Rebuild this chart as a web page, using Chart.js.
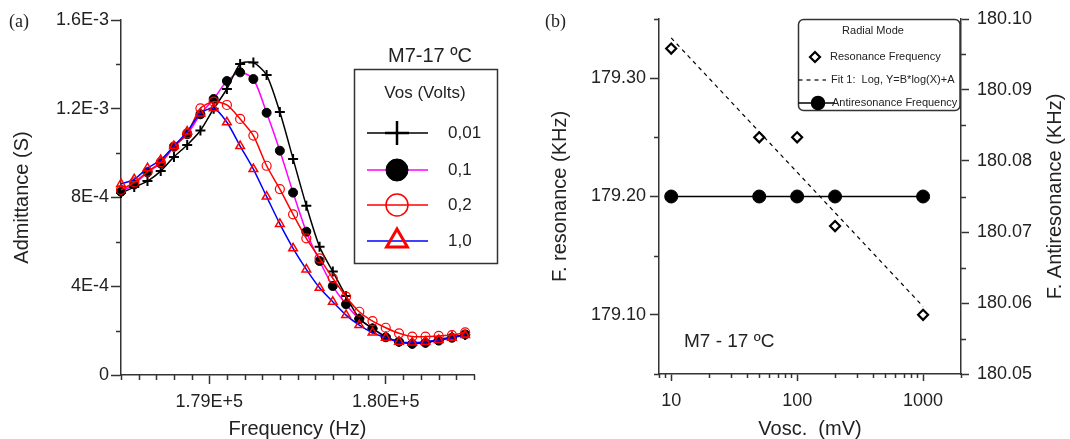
<!DOCTYPE html>
<html>
<head>
<meta charset="utf-8">
<script src="https://cdn.jsdelivr.net/npm/chart.js"></script>
<style>
  body { margin: 0; background: #fff; width: 1070px; height: 439px; overflow: hidden; position: relative; }
  .panel { position: absolute; top: 0; width: 535px; height: 439px; }
  #pa { left: 0; }
  #pb { left: 535px; }
</style>
</head>
<body>
<div class="panel" id="pa"><canvas id="chartA"></canvas></div>
<div class="panel" id="pb"><canvas id="chartB"></canvas></div>
<script>
// ---- panel (a): admittance vs frequency ----
var freqHz = [178500,178575,178650,178725,178800,178875,178950,179025,179100,179175,179250,179325,179400,179475,
              179550,179625,179700,179775,179850,179925,180000,180075,180150,180225,180300,180375,180450];
var adm001 = [8.20e-4,8.47e-4,8.74e-4,9.19e-4,9.83e-4,1.037e-3,1.102e-3,1.200e-3,1.289e-3,1.402e-3,1.408e-3,1.352e-3,1.185e-3,9.74e-4,
              7.63e-4,5.78e-4,4.66e-4,3.56e-4,2.55e-4,2.10e-4,1.73e-4,1.50e-4,1.43e-4,1.47e-4,1.58e-4,1.73e-4,1.80e-4];
var adm01  = [8.26e-4,8.59e-4,9.13e-4,9.54e-4,1.029e-3,1.085e-3,1.175e-3,1.244e-3,1.325e-3,1.364e-3,1.334e-3,1.182e-3,1.011e-3,8.22e-4,
              6.46e-4,5.14e-4,4.01e-4,3.19e-4,2.52e-4,2.10e-4,1.70e-4,1.50e-4,1.40e-4,1.45e-4,1.55e-4,1.68e-4,1.83e-4];
var adm02  = [8.34e-4,8.68e-4,9.16e-4,9.59e-4,1.029e-3,1.089e-3,1.202e-3,1.232e-3,1.217e-3,1.154e-3,1.079e-3,9.43e-4,8.38e-4,7.24e-4,
              6.16e-4,5.26e-4,4.36e-4,3.53e-4,2.85e-4,2.43e-4,2.13e-4,1.88e-4,1.73e-4,1.73e-4,1.76e-4,1.80e-4,1.92e-4];
var adm10  = [8.61e-4,8.82e-4,9.32e-4,9.69e-4,1.032e-3,1.097e-3,1.179e-3,1.202e-3,1.139e-3,1.032e-3,9.28e-4,8.04e-4,6.81e-4,5.71e-4,
              4.76e-4,3.93e-4,3.30e-4,2.70e-4,2.25e-4,1.91e-4,1.68e-4,1.50e-4,1.46e-4,1.50e-4,1.58e-4,1.68e-4,1.80e-4];
var vosLabels = ['0,01', '0,1', '0,2', '1,0'];
var aTicksX = [179000, 180000];
var aTickLabelsX = ['1.79E+5', '1.80E+5'];
var aMinorX = [178500,178600,178700,178800,178900,179100,179200,179300,179400,179500,179600,179700,179800,179900,180100,180200,180300,180400,180500];
var aTicksY = [0, 4e-4, 8e-4, 1.2e-3, 1.6e-3];
var aTickLabelsY = ['0', '4E-4', '8E-4', '1.2E-3', '1.6E-3'];
var aMinorY = [2e-4, 6e-4, 1.0e-3, 1.4e-3];

// ---- panel (b): resonance / antiresonance vs Vosc ----
var vosc = [10, 50, 100, 200, 1000];
var fRes = [179.325, 179.25, 179.25, 179.175, 179.10];
var fAnti = [180.075, 180.075, 180.075, 180.075, 180.075];
var fitX = [10, 1000];
var fitY = [179.334, 179.107];
var bTicksX = [10, 100, 1000];
var bMinorX = [8, 9, 20, 30, 40, 50, 60, 70, 80, 90, 200, 300, 400, 500, 600, 700, 800, 900, 2000];
var bTicksY = [179.10, 179.20, 179.30];
var bTickLabelsY = ['179.10', '179.20', '179.30'];
var bMinorY = [179.05, 179.15, 179.25, 179.35];
var bTicksY2 = [180.05, 180.06, 180.07, 180.08, 180.09, 180.10];
var bTickLabelsY2 = ['180.05', '180.06', '180.07', '180.08', '180.09', '180.10'];
var bMinorY2 = [180.055, 180.065, 180.075, 180.085, 180.095];

var axisColor = '#333';
var textColor = '#222';
Chart.defaults.font.family = '"Liberation Sans", Arial, sans-serif';
Chart.defaults.color = textColor;

function pts(xs, ys) {
  return xs.map(function(x, i) { return {x: x, y: ys[i]}; });
}

var minorTicks = {
  id: 'minorTicks',
  afterDraw: function(chart, args, opts) {
    var ctx = chart.ctx;
    ctx.save();
    ctx.strokeStyle = axisColor;
    ctx.lineWidth = 1.5;
    (opts.list || []).forEach(function(m) {
      var s = chart.scales[m.scale];
      m.values.forEach(function(v) {
        var p = Math.round(s.getPixelForValue(v)) + 0.5;
        ctx.beginPath();
        if (s.isHorizontal()) { ctx.moveTo(p, s.top); ctx.lineTo(p, s.top + m.len); }
        else if (s.position === 'left') { ctx.moveTo(s.right, p); ctx.lineTo(s.right - m.len, p); }
        else { ctx.moveTo(s.left, p); ctx.lineTo(s.left + m.len, p); }
        ctx.stroke();
      });
    });
    ctx.restore();
  }
};

var legendA = {
  id: 'legendA',
  afterDraw: function(chart) {
    var ctx = chart.ctx;
    ctx.save();
    ctx.fillStyle = textColor;
    ctx.font = '18px "Liberation Serif", "Times New Roman", serif';
    ctx.textAlign = 'left'; ctx.textBaseline = 'middle';
    ctx.fillText('(a)', 9, 22);
    ctx.textAlign = 'center';
    ctx.font = '20px "Liberation Sans", Arial, sans-serif';
    ctx.fillText('M7-17 ºC', 430, 56);
    ctx.strokeStyle = axisColor; ctx.lineWidth = 1.5;
    ctx.strokeRect(354.5, 69.5, 143, 194);
    ctx.font = '17px "Liberation Sans", Arial, sans-serif';
    ctx.fillText('Vos (Volts)', 425, 93);
    var rows = [133, 170, 205, 241];
    chart.data.datasets.forEach(function(ds, i) {
      var y = rows[i];
      ctx.strokeStyle = ds.borderColor; ctx.lineWidth = 1.5;
      ctx.beginPath(); ctx.moveTo(367, y); ctx.lineTo(428, y); ctx.stroke();
      ctx.fillStyle = ds.pointBackgroundColor;
      ctx.strokeStyle = ds.pointBorderColor;
      ctx.lineWidth = ds.legendBorder;
      Chart.helpers.drawPoint(ctx, {pointStyle: ds.pointStyle, radius: ds.legendRadius, rotation: 0, borderWidth: ds.legendBorder}, 397, y);
      ctx.fillStyle = textColor;
      ctx.textAlign = 'left';
      ctx.fillText(vosLabels[i], 448, y);
    });
    ctx.restore();
  }
};

new Chart(document.getElementById('chartA'), {
  type: 'scatter',
  data: {
    datasets: [
      {label: vosLabels[0], data: pts(freqHz, adm001), showLine: true, borderColor: '#000', borderWidth: 1.5,
       pointStyle: 'cross', pointRadius: 5, pointBorderWidth: 2, pointBorderColor: '#000', pointBackgroundColor: '#000',
       legendRadius: 12, legendBorder: 2.5, tension: 0.25, order: 2, clip: 10},
      {label: vosLabels[1], data: pts(freqHz, adm01), showLine: true, borderColor: '#ff00ff', borderWidth: 1.5,
       pointStyle: 'circle', pointRadius: 4.5, pointBorderWidth: 1, pointBorderColor: '#000', pointBackgroundColor: '#000',
       legendRadius: 11, legendBorder: 1, tension: 0.25, order: 3, clip: 10},
      {label: vosLabels[2], data: pts(freqHz, adm02), showLine: true, borderColor: '#ff0000', borderWidth: 1.5,
       pointStyle: 'circle', pointRadius: 4.5, pointBorderWidth: 1.2, pointBorderColor: '#ff0000', pointBackgroundColor: 'rgba(255,255,255,0)',
       legendRadius: 11, legendBorder: 1.5, tension: 0.25, order: 1, clip: 10},
      {label: vosLabels[3], data: pts(freqHz, adm10), showLine: true, borderColor: '#0000ff', borderWidth: 1.5,
       pointStyle: 'triangle', pointRadius: 5, pointBorderWidth: 1.5, pointBorderColor: '#ff0000', pointBackgroundColor: 'rgba(255,255,255,0)',
       legendRadius: 12, legendBorder: 3, tension: 0.25, order: 0, clip: 10}
    ]
  },
  options: {
    responsive: true, maintainAspectRatio: false, animation: false,
    layout: {padding: {top: 20, right: 61, left: 0, bottom: 0}},
    plugins: {
      legend: {display: false}, tooltip: {enabled: false},
      minorTicks: {list: [{scale: 'x', values: aMinorX, len: 5}, {scale: 'y', values: aMinorY, len: 5}]}
    },
    scales: {
      x: {
        type: 'linear', min: 178500, max: 180500,
        afterBuildTicks: function(s) { s.ticks = aTicksX.map(function(v) { return {value: v}; }); },
        afterFit: function(s) { s.height = 64; },
        ticks: {callback: function(v, i) { return aTickLabelsX[i]; }, font: {size: 18}, padding: 7, maxRotation: 0, autoSkip: false, color: textColor},
        grid: {drawOnChartArea: false, tickLength: 9, tickWidth: 1.5, color: axisColor},
        border: {color: axisColor, width: 1.5},
        title: {display: true, text: 'Frequency (Hz)', font: {size: 20, lineHeight: 1}, padding: {top: 0, bottom: 0}, color: textColor}
      },
      y: {
        min: 0, max: 1.6e-3,
        afterBuildTicks: function(s) { s.ticks = aTicksY.map(function(v) { return {value: v}; }); },
        afterFit: function(s) { s.width = 121; },
        ticks: {callback: function(v, i) { return aTickLabelsY[i]; }, font: {size: 18}, padding: 2, color: textColor},
        grid: {drawOnChartArea: false, tickLength: 10, tickWidth: 1.5, color: axisColor},
        border: {color: axisColor, width: 1.5},
        title: {display: true, text: 'Admittance (S)', font: {size: 20, lineHeight: 1}, padding: {top: 12, bottom: 0}, color: textColor}
      }
    }
  },
  plugins: [minorTicks, legendA]
});

var legendB = {
  id: 'legendB',
  afterDraw: function(chart) {
    var ctx = chart.ctx, a = chart.chartArea;
    ctx.save();
    ctx.fillStyle = textColor;
    ctx.font = '18px "Liberation Serif", "Times New Roman", serif';
    ctx.textAlign = 'left'; ctx.textBaseline = 'middle';
    ctx.fillText('(b)', 10, 22);
    ctx.font = '19px "Liberation Sans", Arial, sans-serif';
    ctx.fillText('M7 - 17 ºC', 149, 342);
    // right axis title, read bottom to top
    ctx.save();
    ctx.translate(520, (a.top + a.bottom) / 2);
    ctx.rotate(-Math.PI / 2);
    ctx.textAlign = 'center';
    ctx.font = '20px "Liberation Sans", Arial, sans-serif';
    ctx.fillText('F. Antiresonance (KHz)', 0, 0);
    ctx.restore();
    // legend box
    var bx = 263.5, by = a.top + 0.5, bw = a.right - 1 - bx, bh = 91;
    ctx.strokeStyle = axisColor; ctx.lineWidth = 1.5;
    ctx.beginPath(); ctx.roundRect(bx, by, bw, bh, 5); ctx.stroke();
    ctx.font = '11px "Liberation Sans", Arial, sans-serif';
    ctx.textAlign = 'center';
    ctx.fillText('Radial Mode', 338, 31);
    ctx.textAlign = 'left';
    // resonance
    ctx.fillStyle = '#fff'; ctx.strokeStyle = '#000'; ctx.lineWidth = 2.2;
    Chart.helpers.drawPoint(ctx, {pointStyle: 'rectRot', radius: 5, rotation: 0, borderWidth: 2.2}, 280, 57);
    ctx.fillStyle = textColor;
    ctx.fillText('Resonance Frequency', 295, 57);
    // fit
    ctx.strokeStyle = '#000'; ctx.lineWidth = 1.2; ctx.setLineDash([4, 4]);
    ctx.beginPath(); ctx.moveTo(bx, 80); ctx.lineTo(291, 80); ctx.stroke();
    ctx.setLineDash([]);
    ctx.fillText('Fit 1:  Log, Y=B*log(X)+A', 296, 80);
    // antiresonance
    ctx.lineWidth = 1.5;
    ctx.beginPath(); ctx.moveTo(bx, 103); ctx.lineTo(300, 103); ctx.stroke();
    ctx.fillStyle = '#000';
    Chart.helpers.drawPoint(ctx, {pointStyle: 'circle', radius: 6.5, rotation: 0, borderWidth: 1}, 283, 103);
    ctx.fillStyle = textColor;
    ctx.fillText('Antiresonance Frequency', 297, 103);
    ctx.restore();
  }
};

new Chart(document.getElementById('chartB'), {
  type: 'scatter',
  data: {
    datasets: [
      {label: 'Resonance Frequency', data: pts(vosc, fRes), yAxisID: 'y', showLine: false,
       pointStyle: 'rectRot', pointRadius: 5, pointBorderWidth: 2.2, pointBorderColor: '#000', pointBackgroundColor: '#fff', order: 0, clip: 10},
      {label: 'Fit 1:  Log, Y=B*log(X)+A', data: pts(fitX, fitY), yAxisID: 'y', showLine: true, borderColor: '#000',
       borderWidth: 1.2, borderDash: [4, 4], pointRadius: 0, order: 1},
      {label: 'Antiresonance Frequency', data: pts(vosc, fAnti), yAxisID: 'y2', showLine: true, borderColor: '#000', borderWidth: 1.5,
       pointStyle: 'circle', pointRadius: 6.5, pointBorderWidth: 1, pointBorderColor: '#000', pointBackgroundColor: '#000', order: 2, clip: 10}
    ]
  },
  options: {
    responsive: true, maintainAspectRatio: false, animation: false,
    layout: {padding: {top: 19, right: 0, left: 0, bottom: 0}},
    plugins: {
      legend: {display: false}, tooltip: {enabled: false},
      minorTicks: {list: [{scale: 'x', values: bMinorX, len: 4}, {scale: 'y', values: bMinorY, len: 5}, {scale: 'y2', values: bMinorY2, len: 5}]}
    },
    scales: {
      x: {
        type: 'logarithmic', min: 8, max: 2000,
        afterBuildTicks: function(s) { s.ticks = bTicksX.map(function(v) { return {value: v}; }); },
        afterFit: function(s) { s.height = 65; },
        ticks: {callback: function(v) { return String(v); }, font: {size: 18}, padding: 9, maxRotation: 0, autoSkip: false, color: textColor},
        grid: {drawOnChartArea: false, tickLength: 7, tickWidth: 1.5, color: axisColor},
        border: {color: axisColor, width: 1.5},
        title: {display: true, text: 'Vosc.  (mV)', font: {size: 20, lineHeight: 1}, padding: {top: 0, bottom: 0}, color: textColor}
      },
      y: {
        position: 'left', min: 179.05, max: 179.35,
        afterBuildTicks: function(s) { s.ticks = bTicksY.map(function(v) { return {value: v}; }); },
        afterFit: function(s) { s.width = 124; },
        ticks: {callback: function(v, i) { return bTickLabelsY[i]; }, font: {size: 18}, padding: 4, color: textColor},
        grid: {drawOnChartArea: false, tickLength: 9, tickWidth: 1.5, color: axisColor},
        border: {color: axisColor, width: 1.5},
        title: {display: true, text: 'F. resonance (KHz)', font: {size: 20, lineHeight: 1}, padding: {top: 15, bottom: 0}, color: textColor}
      },
      y2: {
        position: 'right', min: 180.05, max: 180.10,
        afterBuildTicks: function(s) { s.ticks = bTicksY2.map(function(v) { return {value: v}; }); },
        afterFit: function(s) { s.width = 109; },
        ticks: {callback: function(v, i) { return bTickLabelsY2[i]; }, font: {size: 18}, padding: 8, color: textColor},
        grid: {drawOnChartArea: false, tickLength: 8, tickWidth: 1.5, color: axisColor},
        border: {color: axisColor, width: 1.5}
      }
    }
  },
  plugins: [minorTicks, legendB]
});
</script>
</body>
</html>
